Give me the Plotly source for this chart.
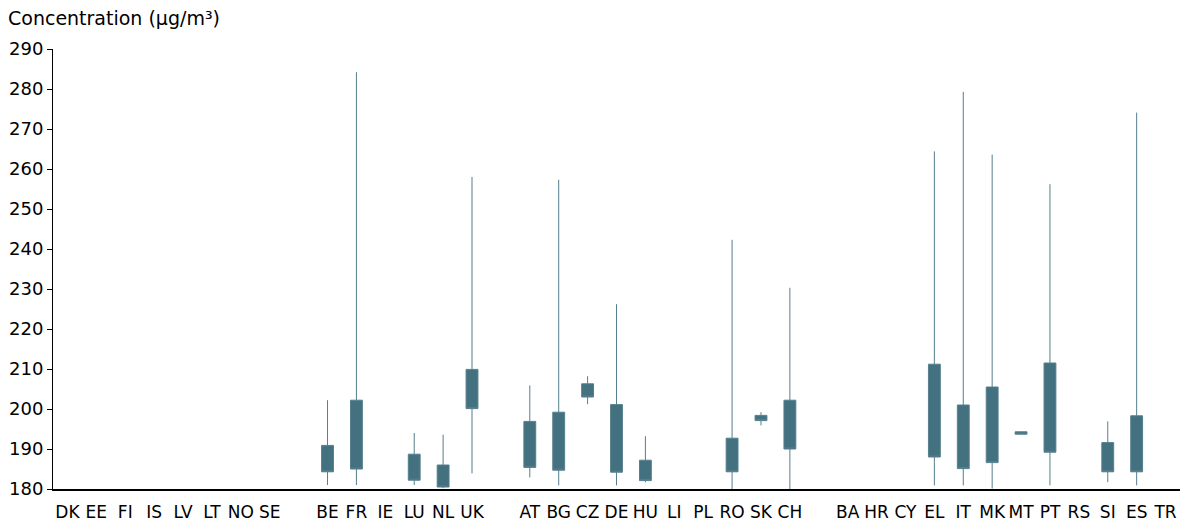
import plotly.graph_objects as go

# Category order along the x axis (blank entries are the gaps between groups)
categories = ["DK", "EE", "FI", "IS", "LV", "LT", "NO", "SE", " ",
              "BE", "FR", "IE", "LU", "NL", "UK", "  ",
              "AT", "BG", "CZ", "DE", "HU", "LI", "PL", "RO", "SK", "CH", "   ",
              "BA", "HR", "CY", "EL", "IT", "MK", "MT", "PT", "RS", "SI", "ES", "TR"]

# Countries that have data
countries = ["BE", "FR", "LU", "NL", "UK",
             "AT", "BG", "CZ", "DE", "HU", "RO", "SK", "CH",
             "EL", "IT", "MK", "MT", "PT", "SI", "ES"]
minimum = [181.0, 181.0, 181.0, 180.2, 183.9,
           182.9, 180.9, 201.2, 180.9, 181.7, 180.0, 195.9, 180.0,
           180.9, 180.9, 180.1, 193.7, 180.9, 181.7, 180.9]
lower_q = [184.3, 185.0, 182.2, 180.5, 200.1,
           185.4, 184.7, 203.0, 184.2, 182.1, 184.3, 197.1, 190.0,
           188.0, 185.1, 186.6, 193.7, 189.2, 184.3, 184.3]
upper_q = [190.9, 202.2, 188.7, 186.0, 209.9,
           196.9, 199.2, 206.3, 201.1, 187.2, 192.7, 198.4, 202.2,
           211.2, 201.0, 205.5, 194.3, 211.5, 191.6, 198.3]
maximum = [202.2, 284.2, 194.0, 193.6, 258.0,
           205.9, 257.3, 208.2, 226.2, 193.2, 242.3, 199.2, 230.3,
           264.4, 279.3, 263.6, 194.3, 256.2, 196.9, 274.1]

y_ticks = [180, 190, 200, 210, 220, 230, 240, 250, 260, 270, 280, 290]

BOX = "#44717f"
WHISKER = "#557f8d"
FONT = "DejaVu Sans"

fig = go.Figure()

# invisible helper so every category (incl. empty ones) occupies a slot
fig.add_trace(go.Scatter(x=categories, y=[180] * len(categories), mode="markers",
                         marker=dict(opacity=0), hoverinfo="skip", showlegend=False))

fig.add_trace(go.Box(
    x=countries, q1=lower_q, median=lower_q, q3=upper_q,
    lowerfence=minimum, upperfence=maximum,
    width=0.41, whiskerwidth=0,
    fillcolor=BOX, line=dict(color=WHISKER, width=1),
    boxpoints=False, showlegend=False,
))

fig.update_layout(
    width=1184, height=525,
    margin=dict(l=53, r=4, t=49, b=36),
    plot_bgcolor="white", paper_bgcolor="white",
    font=dict(family=FONT, size=18, color="#000000"),
    xaxis=dict(type="category", categoryorder="array", categoryarray=categories,
               range=[-0.5, len(categories) - 0.5], automargin=False,
               showline=True, linecolor="#000000", linewidth=1.5,
               ticks="", showgrid=False, zeroline=False,
               tickfont=dict(size=17, family=FONT), ticklabelstandoff=7),
    yaxis=dict(range=[180, 290], tickvals=y_ticks, automargin=False,
               showline=True, linecolor="#000000", linewidth=1,
               ticks="outside", ticklen=5, tickcolor="#000000",
               showgrid=False, zeroline=False,
               tickfont=dict(size=18, family=FONT)),
    annotations=[dict(text="Concentration (µg/m³)", xref="paper", yref="paper",
                      x=0, y=1, xanchor="left", yanchor="middle",
                      xshift=-47, yshift=31, showarrow=False,
                      font=dict(size=19, family=FONT))],
)

fig.write_html("out.html", config={"displayModeBar": False},
               post_script="document.body.style.margin='0px';document.body.style.padding='0px';")
